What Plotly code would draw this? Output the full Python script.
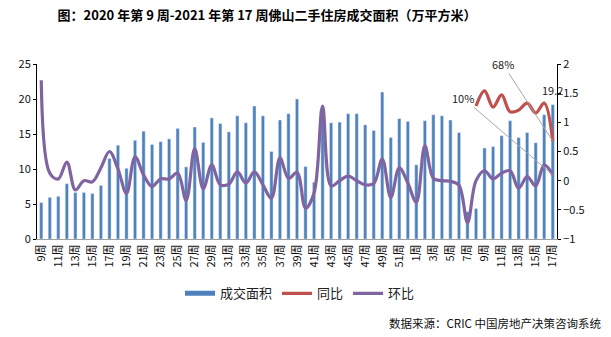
import plotly.graph_objects as go

# ---- data ----
weeks_2020 = list(range(9, 53))
weeks_2021 = list(range(1, 18))
week_labels = [f"{w}周" for w in weeks_2020] + [f"{w}周" for w in weeks_2021]

area = [5.2, 5.95, 6.1, 7.9, 6.65, 6.65, 6.5, 7.65, 11.5, 13.4,
        10.1, 14.1, 15.4, 13.5, 13.9, 14.3, 15.8, 10.3, 16.0, 13.8,
        17.3, 16.5, 15.3, 17.6, 16.6, 19.0, 17.6, 12.5, 17.0, 17.9,
        20.0, 10.35, 8.1, 18.5, 16.6, 16.7, 17.9, 17.9, 16.3, 15.5,
        21.0, 14.5, 17.2, 16.8, 10.6, 16.9, 17.75, 17.6, 17.0, 15.2,
        3.9, 4.35, 13.0, 13.2, 14.75, 16.9, 14.5, 15.2, 13.75, 17.75,
        19.2]

mom = [1.72, 0.13, 0.03, 0.32, -0.16, 0.0, -0.02, 0.22, 0.5, 0.2,
       -0.22, 0.41, 0.1, -0.1, 0.03, 0.03, 0.13, -0.34, 0.55, -0.14,
       0.27, -0.07, -0.06, 0.15, -0.04, 0.15, -0.07, -0.3, 0.39, 0.04,
       0.14, -0.47, -0.21, 1.28, -0.09, 0.0, 0.08, 0.0, -0.07, -0.05,
       0.37, -0.29, 0.22, -0.04, -0.37, 0.6, 0.04, 0.0, -0.01, -0.08,
       -0.72, 0.0, 0.17, 0.03, 0.13, 0.17, -0.13, 0.07, -0.09, 0.27,
       0.1]

yoy = [None] * 51 + [1.28, 1.54, 1.26, 1.47, 1.18, 1.21, 1.33, 1.16, 1.33, 0.68]

x = list(range(len(area)))

BLUE = "#4F81BD"
RED = "#C0504D"
PURPLE = "#8064A2"
FONT = "Noto Sans CJK SC"

fig = go.Figure()
fig.add_trace(go.Bar(x=x, y=area, name="成交面积", marker_color=BLUE,
                     width=0.38, showlegend=False))
fig.add_trace(go.Scatter(x=[None], y=[None], mode="lines", name="成交面积",
                         line=dict(color=BLUE, width=5)))
fig.add_trace(go.Scatter(x=x, y=yoy, mode="lines", name="同比", yaxis="y2",
                         line=dict(color=RED, width=3.2, shape="spline", smoothing=1)))
fig.add_trace(go.Scatter(x=x, y=mom, mode="lines", name="环比", yaxis="y2",
                         line=dict(color=PURPLE, width=3.2, shape="spline", smoothing=1)))

fig.update_layout(
    width=611, height=337,
    margin=dict(l=37, r=54, t=64, b=98),
    paper_bgcolor="white", plot_bgcolor="white",
    font=dict(family=FONT, size=11, color="#222"),
    title=dict(text="<b>图：2020 年第 9 周-2021 年第 17 周佛山二手住房成交面积（万平方米）</b>",
               xref="container", x=267/611, xanchor="center",
               yref="container", y=1-15/337, yanchor="middle",
               font=dict(family=FONT, size=13, color="#000")),
    xaxis=dict(range=[-0.5, 60.5], tickmode="array", tickvals=x[::2],
               ticktext=week_labels[::2], tickangle=-90, showline=True,
               linecolor="#A0A0A0", linewidth=1, showgrid=False, zeroline=False,
               ticks="", tickfont=dict(size=11, color="#111")),
    yaxis=dict(range=[0, 25], dtick=5, showline=True, linecolor="#000", linewidth=1,
               ticks="outside", ticklen=3, tickcolor="#000", showgrid=False,
               zeroline=False, tickfont=dict(size=11, color="#111")),
    yaxis2=dict(range=[-1, 2], dtick=0.5, overlaying="y", side="right", showline=True,
                linecolor="#000", linewidth=1, ticks="outside", ticklen=3, tickcolor="#000",
                showgrid=False, zeroline=False, tickfont=dict(size=11, color="#111")),
    legend=dict(orientation="h", x=(300-37)/520, xanchor="center",
                y=(239.3-293.7)/175, yanchor="middle",
                font=dict(family=FONT, size=13, color="#222"), itemwidth=30),
    bargap=0.5,
)

fig.add_annotation(x=60, y=mom[-1], xref="x", yref="y2", text="10%", showarrow=True,
                   arrowhead=0, arrowwidth=1, arrowcolor="#A6A6A6", ax=-90, ay=-77,
                   font=dict(size=11, color="#222"))
fig.add_annotation(x=60, y=yoy[-1], xref="x", yref="y2", text="68%", showarrow=True,
                   arrowhead=0, arrowwidth=1, arrowcolor="#A6A6A6", ax=-50, ay=-77,
                   font=dict(size=11, color="#222"))
fig.add_annotation(x=60, y=area[-1], xref="x", yref="y", text="19.2", showarrow=False,
                   yanchor="bottom", yshift=5, font=dict(size=11, color="#222"))
fig.add_annotation(x=(603-37)/520, y=(239.3-323)/175, xref="paper", yref="paper",
                   text="数据来源：CRIC 中国房地产决策咨询系统", showarrow=False,
                   xanchor="right", yanchor="middle", font=dict(size=11.5, color="#111"))

fig.write_html("out.html")
